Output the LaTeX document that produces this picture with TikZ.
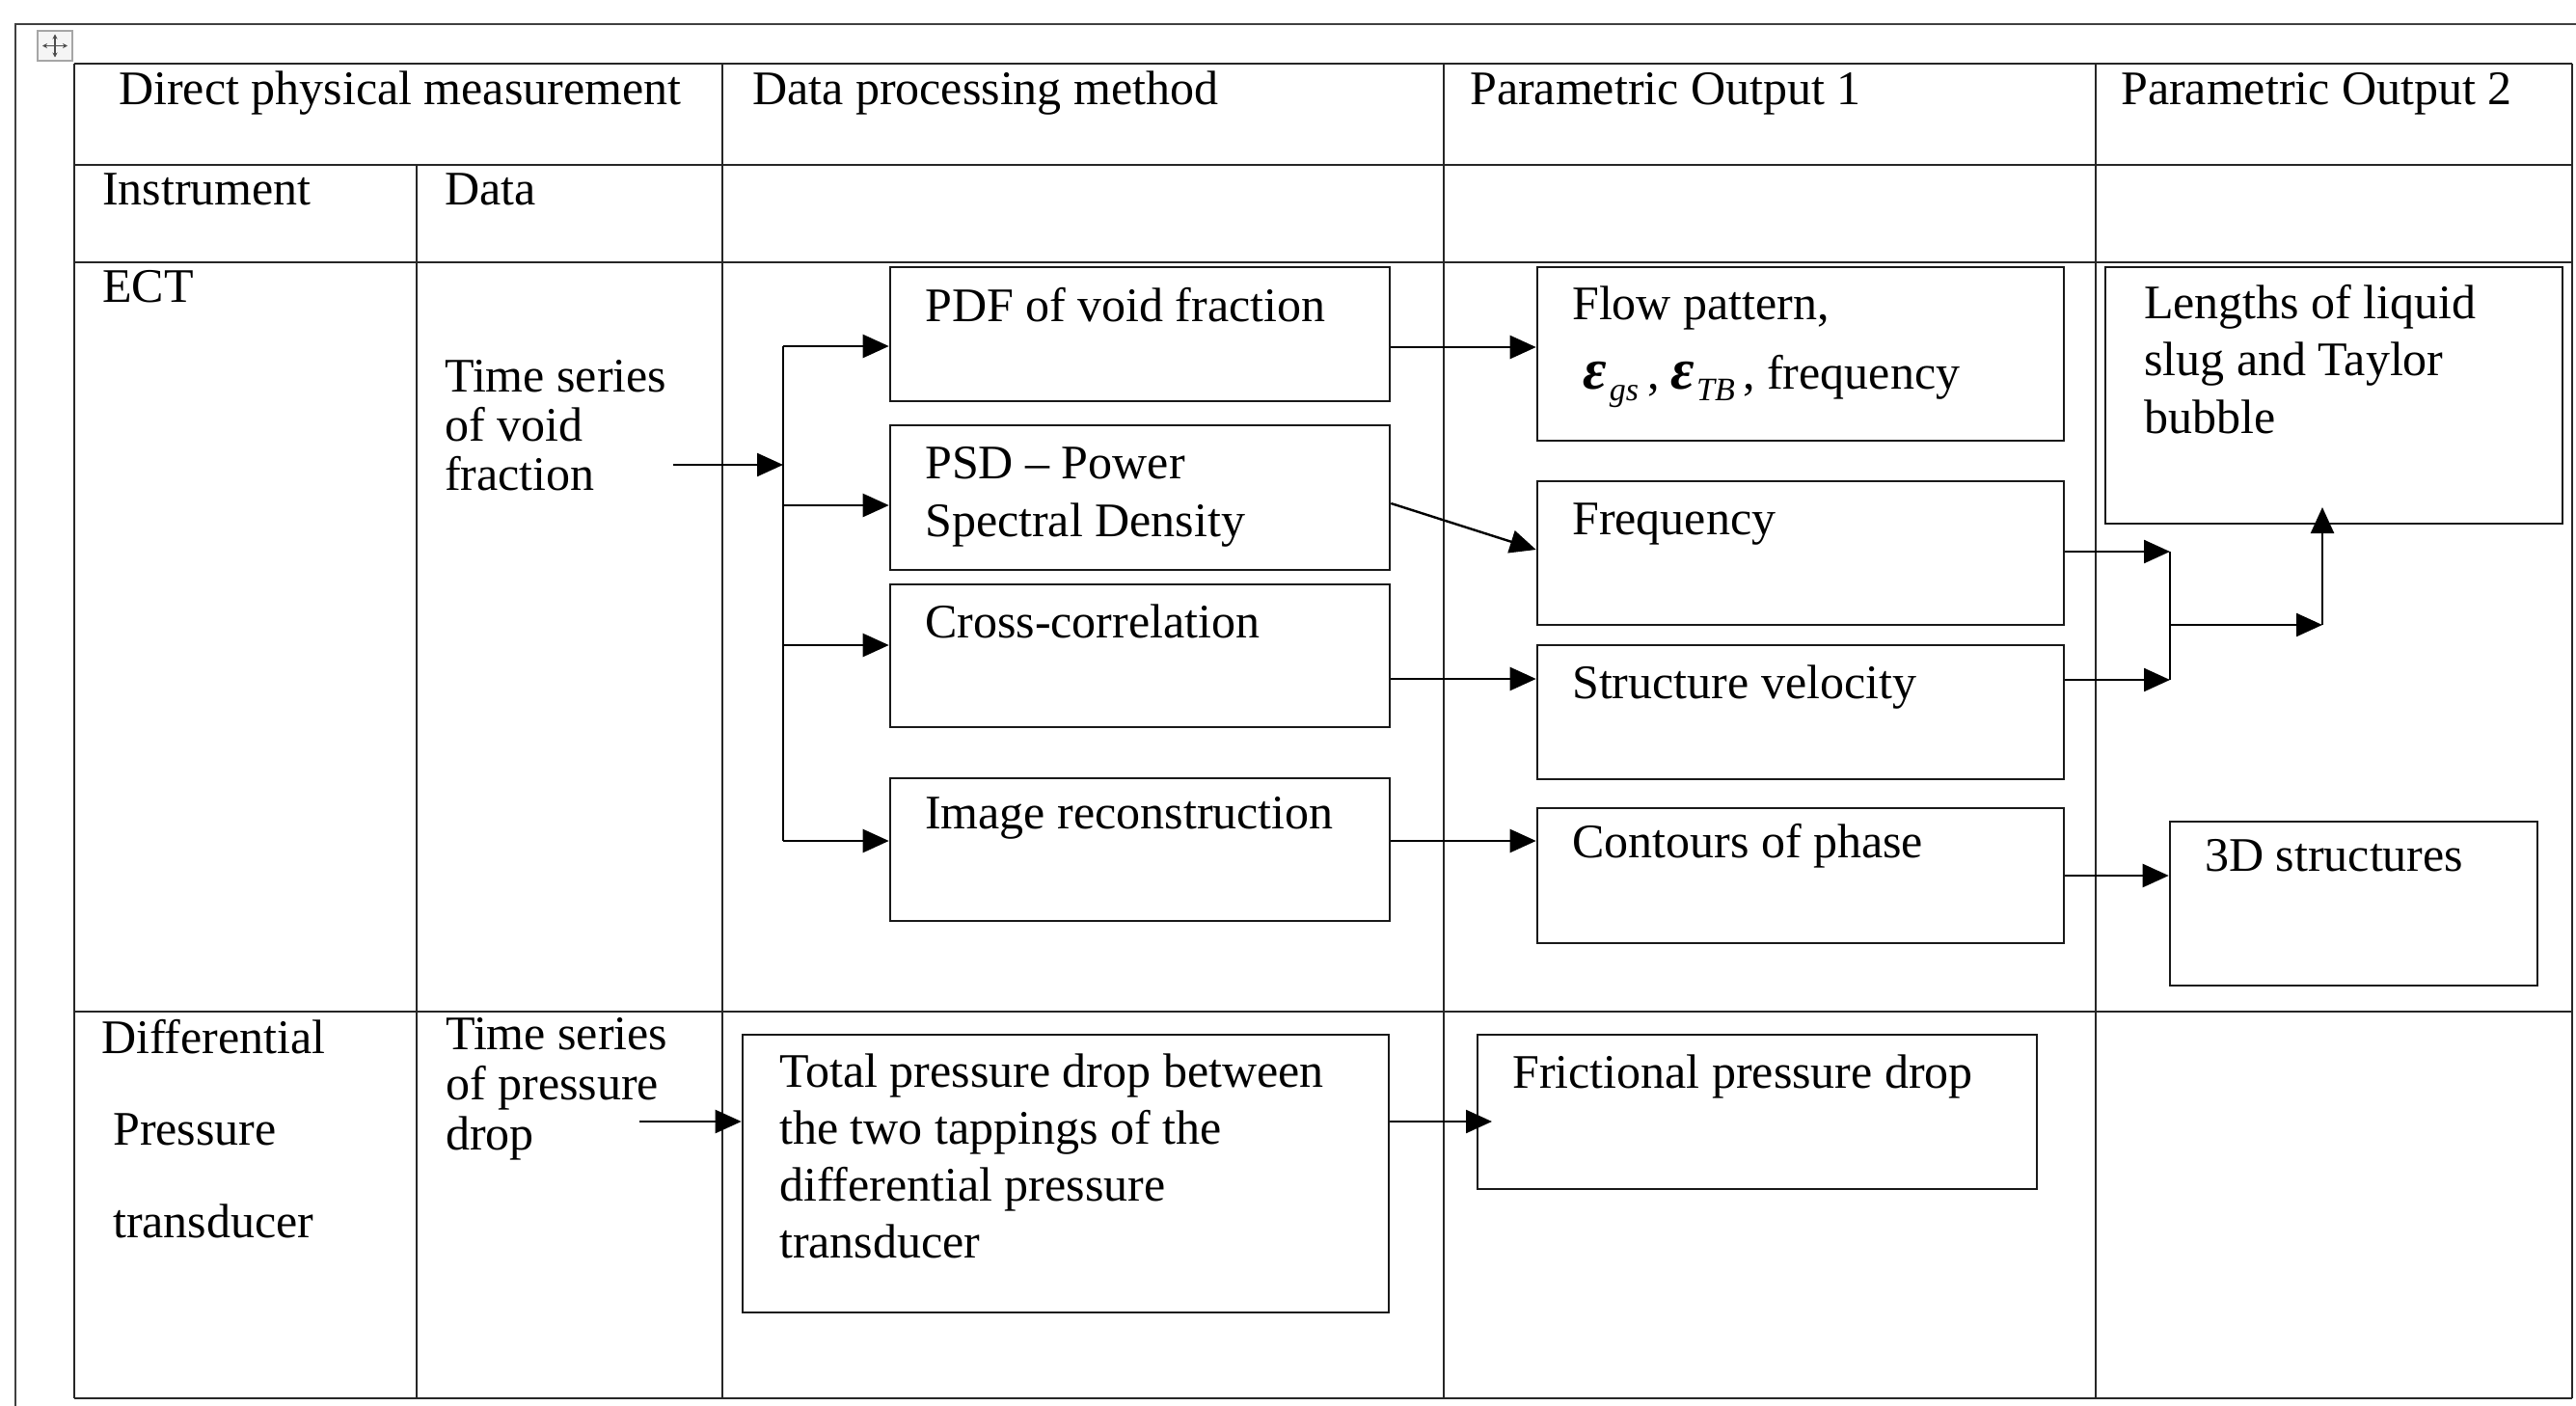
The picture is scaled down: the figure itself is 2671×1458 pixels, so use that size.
\documentclass[tikz,border=0pt]{standalone}
\usepackage{fontspec}
\setmainfont{Liberation Serif}
\usetikzlibrary{arrows.meta,fit,calc}
\newcommand{\subsc}[1]{\raisebox{-12pt}{\fontsize{34}{34}\selectfont\itshape #1}}
\newcommand{\epsb}{{\fontsize{60}{60}\selectfont\bfseries\itshape ε}}
\begin{document}
\begin{tikzpicture}[x=1pt,y=-1pt,
  rowline/.style={line width=2.6pt, black!85},
  colline/.style={line width=2pt, black!85},
  box/.style={draw, line width=2.6pt, black!90, inner sep=0pt, fit={#1}},
  arr/.style={line width=2.4pt, -{Triangle[length=27pt,width=24pt]}},
  plainln/.style={line width=2.4pt},
  txt/.style={anchor=base west, inner sep=0pt, align=left, font=\fontsize{50}{#1}\selectfont},
  txt/.default=59
]
\useasboundingbox (0,0) rectangle (2671,1458);
% outer frame
\draw[line width=2pt, black!75] (16,1458) -- (16,25) -- (2671,25);
% move handle
\node[draw=gray!70, fill=gray!8, line width=1.5pt, inner sep=0pt, fit={(39,32) (75,63)}] (handle) {};
\draw[line width=1.3pt, black!70, {Stealth[length=5pt,width=5pt]}-{Stealth[length=5pt,width=5pt]}] ($(handle.center)+(-13,0)$) -- ($(handle.center)+(13,0)$);
\draw[line width=1.3pt, black!70, {Stealth[length=5pt,width=5pt]}-{Stealth[length=5pt,width=5pt]}] ($(handle.center)+(0,-12)$) -- ($(handle.center)+(0,12)$);
% table rows
\foreach \yy in {66,171,272,1049,1450} \draw[rowline] (77,\yy) -- (2667,\yy);
\foreach \xx in {77,749,1497,2173,2667} \draw[colline] (\xx,66) -- (\xx,1450);
\draw[colline] (432,171) -- (432,1450);
% header texts (anchor = baseline of the last line)
\node[txt] (h1) at (123,109) {Direct physical measurement};
\node[txt] (h2) at (780,109) {Data processing method};
\node[txt] (h3) at (1524,109) {Parametric Output 1};
\node[txt] (h4) at (2199,109) {Parametric Output 2};
\node[txt] (h5) at (106,213) {Instrument};
\node[txt] (h6) at (461,213) {Data};
\node[txt] (ect) at (106,313) {ECT};
\node[txt=51] (tsv) at (461,508) {Time series\\of void\\fraction};
% processing boxes
\node[box={(923,277) (1441,416)}] (pdf) {};
\node[box={(923,441) (1441,591)}] (psd) {};
\node[box={(923,606) (1441,754)}] (cc) {};
\node[box={(923,807) (1441,955)}] (img) {};
\node[txt] (tpdf) at (959,333) {PDF of void fraction};
\node[txt=60] (tpsd) at (959,556) {PSD -- Power\\Spectral Density};
\node[txt] (tcc) at (959,661) {Cross-correlation};
\node[txt] (timg) at (959,859) {Image reconstruction};
% output 1 boxes
\node[box={(1594,277) (2140,457)}] (flow) {};
\node[box={(1594,499) (2140,648)}] (freq) {};
\node[box={(1594,669) (2140,808)}] (sv) {};
\node[box={(1594,838) (2140,978)}] (cont) {};
\node[txt] (tflow) at (1630,331) {Flow pattern,};
\node[txt] (tflow2) at (1641,403) {\epsb\hspace{3pt}\subsc{gs}\hspace{9pt},\hspace{12pt}\epsb\hspace{2pt}\subsc{TB}\hspace{9pt},\hspace{12pt}frequency};
\node[txt] (tfreq) at (1630,554) {Frequency};
\node[txt] (tsv2) at (1630,724) {Structure velocity};
\node[txt] (tcont) at (1630,889) {Contours of phase};
% output 2 boxes
\node[box={(2183,277) (2657,543)}] (len) {};
\node[box={(2250,852) (2631,1022)}] (threed) {};
\node[txt=59.5] (tlen) at (2223,449) {Lengths of liquid\\slug and Taylor\\bubble};
\node[txt] (t3d) at (2286,903) {3D structures};
% pressure row
\node[txt=95.5] (tdp) at (105,1283) {Differential\\\hspace*{12pt}Pressure\\\hspace*{12pt}transducer};
\node[txt=52] (tsp) at (462,1192) {Time series\\of pressure\\drop};
\node[box={(770,1073) (1440,1361)}] (tot) {};
\node[txt=59] (ttot) at (808,1304) {Total pressure drop between\\the two tappings of the\\differential pressure\\transducer};
\node[box={(1532,1073) (2112,1233)}] (fric) {};
\node[txt] (tfric) at (1568,1128) {Frictional pressure drop};
% connectors ECT
\coordinate (tsvend) at (698,482);
\coordinate (bustop) at (812,359);
\coordinate (busbot) at (812,872);
\draw[arr] (tsvend) -- (tsvend -| bustop);
\draw[plainln] (bustop) -- (busbot);
\draw[arr] (bustop) -- (bustop -| pdf.west);
\draw[arr] (812,524) -- (812,524 -| psd.west);
\draw[arr] (812,669) -- (812,669 -| cc.west);
\draw[arr] (busbot) -- (busbot -| img.west);
\draw[arr] (pdf.east |- 0,360) -- (flow.west |- 0,360);
\draw[arr] (psd.east |- 0,522) -- (freq.west |- 0,570);
\draw[arr] (cc.east |- 0,704) -- (sv.west |- 0,704);
\draw[arr] (img.east |- 0,872) -- (cont.west |- 0,872);
% output 2 connectors
\coordinate (ja) at (2250,572);
\coordinate (jb) at (2250,705);
\coordinate (jm) at (2250,648);
\coordinate (jr) at (2408,648);
\coordinate (jt) at (2408,526);
\draw[arr] (freq.east |- ja) -- (ja);
\draw[arr] (sv.east |- jb) -- (jb);
\draw[plainln] (ja) -- (jb);
\draw[arr] (jm) -- (jr);
\draw[arr] (jr) -- (jt);
\draw[arr] (cont.east |- 0,908) -- (threed.west |- 0,908);
% pressure connectors
\coordinate (tspend) at (663,1163);
\draw[arr] (tspend) -- (tspend -| tot.west);
\draw[arr] (tot.east |- 0,1163) -- (1547,1163);
\end{tikzpicture}
\end{document}
